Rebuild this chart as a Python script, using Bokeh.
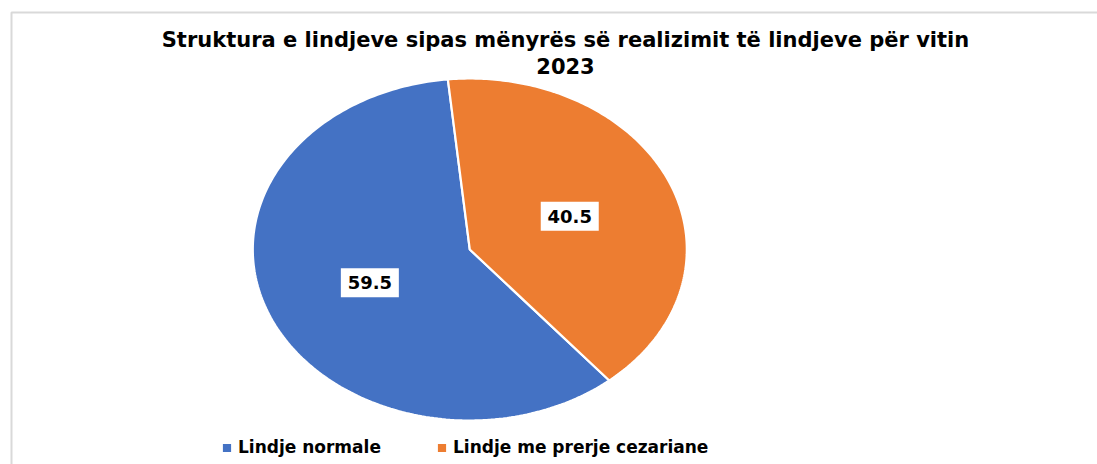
import numpy as np
from bokeh.plotting import figure
from bokeh.models import ColumnDataSource, Legend, LegendItem, Range1d
from bokeh.core.properties import value
from bokeh.embed import file_html
from bokeh.resources import INLINE

# ---- data ----
title_lines = ["Struktura e lindjeve sipas mënyrës së realizimit të lindjeve për vitin", "2023"]
categories = ["Lindje normale", "Lindje me prerje cezariane"]
shares = [59.5, 40.5]
labels = ["59.5", "40.5"]
colors = ["#4472C4", "#ED7D31"]

# ---- layout ----
W, H = 1097, 464
CX, CY = 469.3, 215.0      # pie centre
RX, RY = 217.0, 171.0      # stretched pie radii
FIRST_ANGLE = 140.0        # degrees clockwise from 12 o'clock

p = figure(width=W, height=H, output_backend="svg", toolbar_location=None,
           x_range=Range1d(0, W), y_range=Range1d(0, H), min_border=0,
           x_axis_type=None, y_axis_type=None)
p.grid.visible = False
p.outline_line_color = None
p.background_fill_color = "white"
p.border_fill_color = "white"

# chart-area border
p.quad(left=11, right=W + 30, top=452, bottom=-30, fill_color=None,
       line_color="#d9d9d9", line_width=2)

# ---- pie slices ----
renderers = []
lab_x, lab_y = [], []
cum = 0.0
total = sum(shares)
for share, col in zip(shares, colors):
    t0 = FIRST_ANGLE + cum / total * 360.0
    t1 = t0 + share / total * 360.0
    cum += share
    t = np.linspace(t0, t1, 200)
    phi = np.radians(90.0 - t)
    xs = np.concatenate([[CX], CX + RX * np.cos(phi), [CX]])
    ys = np.concatenate([[CY], CY + RY * np.sin(phi), [CY]])
    r = p.patch(xs, ys, fill_color=col, line_color="white", line_width=2.2)
    renderers.append(r)
    tm = np.radians(90.0 - (t0 + t1) / 2.0)
    lab_x.append(CX + 0.5 * RX * np.cos(tm))
    lab_y.append(CY + 0.5 * RY * np.sin(tm))

# ---- data labels ----
lsrc = ColumnDataSource(dict(x=lab_x, y=lab_y, text=labels))
p.rect(x="x", y="y", width=58, height=29, width_units="screen", height_units="screen",
       fill_color="white", line_color=None, source=lsrc)
p.text(x="x", y="y", text="text", source=lsrc, text_align="center", text_baseline="middle",
       text_font=value("DejaVu Sans"), text_font_style="bold", text_font_size="18px",
       text_color="#000000")

# ---- title ----
p.text(x=[565, 565], y=[464 - 39, 464 - 65], text=title_lines, text_align="center",
       text_baseline="middle", text_font=value("DejaVu Sans"), text_font_style="bold",
       text_font_size="21px", text_color="#000000")

# ---- legend ----
legend = Legend(items=[LegendItem(label=c, renderers=[r]) for c, r in zip(categories, renderers)],
                orientation="horizontal", location=(220, 7),
                glyph_width=13, glyph_height=13, label_standoff=5, label_width=197,
                label_height=20, spacing=0, padding=0, margin=0,
                border_line_color=None, background_fill_alpha=0,
                label_text_font="DejaVu Sans", label_text_font_style="bold",
                label_text_font_size="17px", label_text_color="#000000")
p.add_layout(legend, "center")

open("out.html", "w").write(file_html(p, INLINE))
